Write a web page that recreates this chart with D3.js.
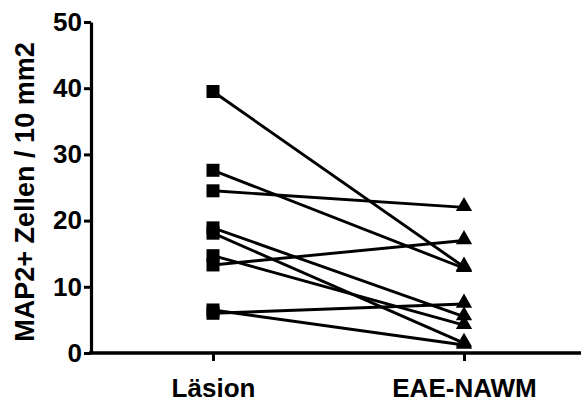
<!DOCTYPE html>
<html>
<head>
<meta charset="utf-8">
<script src="https://cdn.jsdelivr.net/npm/d3@7"></script>
<style>
  body { margin: 0; background: #fff; }
  text { font-family: "Liberation Sans", Arial, sans-serif; font-weight: bold; fill: #000; }
</style>
</head>
<body>
<script>
var width = 581, height = 405;

// groups on the x axis
var categories = ['Läsion', 'EAE-NAWM'];
// paired values, one entry per animal (same index = same line)
var laesion  = [39.5, 27.6, 24.5, 18.9, 18.1, 14.7, 13.3, 6.5, 6.0];
var eaeNawm  = [13.0, 12.8, 22.0, 5.5, 1.5, 4.2, 17.0, 1.2, 7.4];
var yTicks = [0, 10, 20, 30, 40, 50];
var yLabel = 'MAP2+ Zellen / 10 mm2';

var svg = d3.select('body').append('svg')
  .attr('width', width)
  .attr('height', height);

var x = d3.scalePoint().domain(categories).range([213, 464]);
var y = d3.scaleLinear().domain([0, 50]).range([353, 22]);

var pairs = laesion.map(function(v, i){ return [v, eaeNawm[i]]; });

// connecting lines
svg.append('g').selectAll('line').data(pairs).enter().append('line')
  .attr('x1', x(categories[0])).attr('y1', function(d){ return y(d[0]); })
  .attr('x2', x(categories[1])).attr('y2', function(d){ return y(d[1]); })
  .attr('stroke', '#000').attr('stroke-width', 2.9);

// squares for Läsion
var sq = 13;
svg.append('g').selectAll('rect').data(laesion).enter().append('rect')
  .attr('x', x(categories[0]) - sq / 2)
  .attr('y', function(d){ return y(d) - sq / 2; })
  .attr('width', sq).attr('height', sq)
  .attr('fill', '#000');

// triangles for EAE-NAWM
var tri = d3.symbol().type(d3.symbolTriangle).size(115);
svg.append('g').selectAll('path').data(eaeNawm).enter().append('path')
  .attr('d', tri)
  .attr('transform', function(d){ return 'translate(' + x(categories[1]) + ',' + (y(d) - 1) + ')'; })
  .attr('fill', '#000');

// y axis
var yAxis = svg.append('g')
  .attr('transform', 'translate(91,0)')
  .call(d3.axisLeft(y).tickValues(yTicks).tickSize(7).tickSizeOuter(0).tickPadding(2));
yAxis.select('.domain').attr('stroke-width', 3.2);
yAxis.selectAll('.tick line').attr('stroke-width', 3);
yAxis.selectAll('.tick text').style('font-size', '26px');

// x axis: long base line plus category ticks
svg.append('line')
  .attr('x1', 89).attr('x2', width)
  .attr('y1', y(0)).attr('y2', y(0))
  .attr('stroke', '#000').attr('stroke-width', 3.5);

var xAxis = svg.append('g')
  .attr('transform', 'translate(0,' + y(0) + ')')
  .call(d3.axisBottom(x).tickSize(8).tickPadding(18));
xAxis.select('.domain').remove();
xAxis.selectAll('.tick line').attr('stroke-width', 3);
xAxis.selectAll('.tick text').style('font-size', '26px');

// y label
svg.append('text')
  .attr('transform', 'translate(34,' + 192 + ') rotate(-90)')
  .attr('text-anchor', 'middle')
  .style('font-size', '27px')
  .text(yLabel);
</script>
</body>
</html>
